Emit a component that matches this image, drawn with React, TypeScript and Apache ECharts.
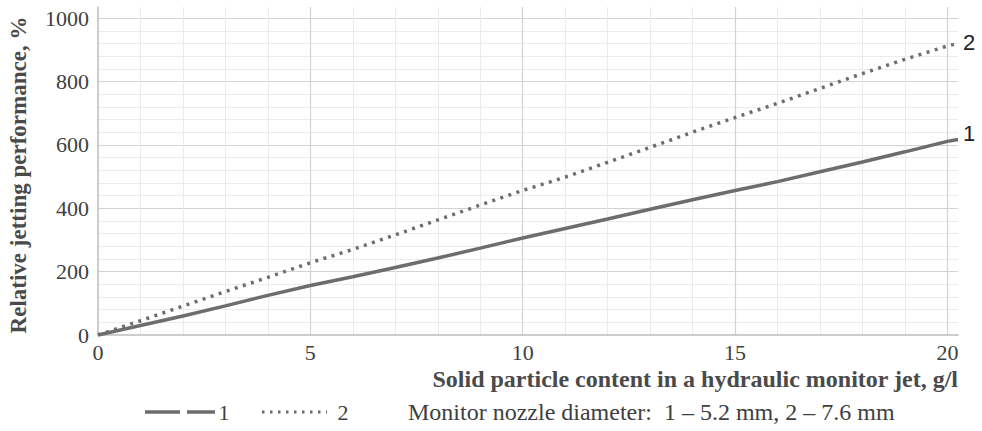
import React, { useEffect, useRef } from "react";
import * as echarts from "echarts";

const xValues = [0, 1, 2, 3, 4, 5, 6, 7, 8, 9, 10, 11, 12, 13, 14, 15, 16, 17, 18, 19, 20, 20.25];
const series1 = [0, 30, 60, 92, 125, 156, 184, 213, 243, 274, 306, 336, 366, 397, 427, 456, 484, 515, 546, 578, 611, 617];
const series2 = [0, 45, 91, 137, 182, 228, 270, 316, 363, 410, 456, 498, 545, 592, 640, 686, 731, 778, 825, 870, 912, 920];
const seriesNames = ["1", "2"];
const xTitle = "Solid particle content in a hydraulic monitor jet, g/l";
const yTitle = "Relative jetting performance, %";
const noteText = "Monitor nozzle diameter:  1 – 5.2 mm, 2 – 7.6 mm";

const LINE = "#6d6d6d";
const SERIF = "'Liberation Serif', 'Times New Roman', serif";
const SANS = "'Liberation Sans', Arial, sans-serif";

export default function App() {
  const ref = useRef<HTMLDivElement>(null);
  useEffect(() => {
    if (!ref.current) return;
    const chart = echarts.init(ref.current, null, { renderer: "svg" });
    const pairs = (ys: number[]) => xValues.map((x, i) => [x, ys[i]]);
    const option: any = {
      animation: false,
      backgroundColor: "#ffffff",
      grid: { left: 98, right: 24, top: 7, bottom: 96 },
      xAxis: [
        {
          type: "value", min: 0, max: 20.25, interval: 1,
          axisLine: { show: false }, axisTick: { show: false }, axisLabel: { show: false },
          splitLine: { show: true, showMaxLine: false, showMinLine: false, lineStyle: { color: "#ebebeb", width: 1 } },
        },
        {
          type: "value", min: 0, max: 20.25, interval: 5, position: "bottom",
          axisLine: { show: true, onZero: false, lineStyle: { color: "#bdbdbd", width: 1.5 } },
          axisTick: { show: false },
          axisLabel: { showMaxLabel: false, color: "#404040", fontFamily: SERIF, fontSize: 22, margin: 6, formatter: (v: number) => String(v) },
          splitLine: { show: true, showMaxLine: false, showMinLine: false, lineStyle: { color: "#d2d2d2", width: 1.2 } },
        },
      ],
      yAxis: [
        {
          type: "value", min: 0, max: 1035, interval: 40,
          axisLine: { show: false }, axisTick: { show: false }, axisLabel: { show: false },
          splitLine: { show: true, showMaxLine: false, showMinLine: false, lineStyle: { color: "#ebebeb", width: 1 } },
        },
        {
          type: "value", min: 0, max: 1035, interval: 200, position: "left",
          axisLine: { show: true, onZero: false, lineStyle: { color: "#bdbdbd", width: 1.5 } },
          axisTick: { show: false },
          axisLabel: { showMaxLabel: false, color: "#404040", fontFamily: SERIF, fontSize: 22, margin: 9, formatter: (v: number) => String(v) },
          splitLine: { show: true, showMaxLine: false, showMinLine: false, lineStyle: { color: "#d2d2d2", width: 1.2 } },
        },
      ],
      series: [
        {
          name: seriesNames[0], type: "line", xAxisIndex: 0, yAxisIndex: 0,
          data: pairs(series1), showSymbol: false, symbol: "none",
          lineStyle: { color: LINE, width: 3.5 },
          endLabel: { show: true, formatter: seriesNames[0], color: "#222", fontFamily: SANS, fontSize: 22, distance: 5, offset: [0, -6] },
        },
        {
          name: seriesNames[1], type: "line", xAxisIndex: 0, yAxisIndex: 0,
          data: pairs(series2), showSymbol: false, symbol: "none",
          lineStyle: { color: LINE, width: 3.5, type: [3, 5.5] },
          endLabel: { show: true, formatter: seriesNames[1], color: "#222", fontFamily: SANS, fontSize: 22, distance: 5, offset: [0, -1] },
        },
      ],
      graphic: [
        {
          type: "text", x: 18, y: 175, rotation: Math.PI / 2,
          style: { text: yTitle, fill: "#4a4a4a", font: `bold 23px ${SERIF}`, align: "center", verticalAlign: "middle" },
        },
        {
          type: "text", x: 958, y: 379,
          style: { text: xTitle, fill: "#4a4a4a", font: `bold 24px ${SERIF}`, align: "right", verticalAlign: "middle" },
        },
        { type: "line", shape: { x1: 145, y1: 412, x2: 180, y2: 412 }, style: { stroke: LINE, lineWidth: 3.5 } },
        { type: "line", shape: { x1: 187, y1: 412, x2: 215, y2: 412 }, style: { stroke: LINE, lineWidth: 3.5 } },
        {
          type: "text", x: 224, y: 412,
          style: { text: seriesNames[0], fill: "#404040", font: `22px ${SERIF}`, align: "center", verticalAlign: "middle" },
        },
        { type: "line", shape: { x1: 262, y1: 412, x2: 327, y2: 412 }, style: { stroke: LINE, lineWidth: 3, lineDash: [2.5, 5.5] } },
        {
          type: "text", x: 343, y: 412,
          style: { text: seriesNames[1], fill: "#404040", font: `22px ${SERIF}`, align: "center", verticalAlign: "middle" },
        },
        {
          type: "text", x: 408, y: 412,
          style: { text: noteText, fill: "#404040", font: `24px ${SERIF}`, align: "left", verticalAlign: "middle" },
        },
      ],
    };
    chart.setOption(option);
    return () => chart.dispose();
  }, []);
  return <div ref={ref} style={{ width: 982, height: 431, position: "absolute", left: 0, top: 0 }} />;
}
